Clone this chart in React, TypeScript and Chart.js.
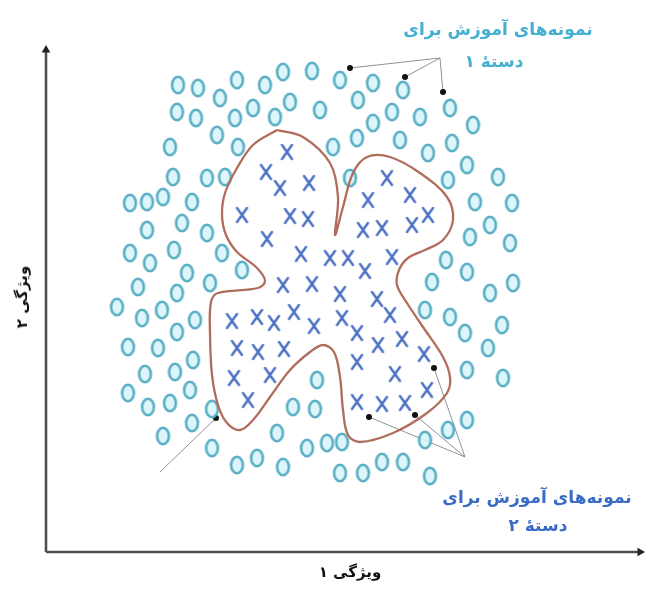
import React, { useEffect, useRef } from "react";
import { Chart, registerables } from "chart.js";
Chart.register(...registerables);

// Training samples of class 1 (circles): [feature1, feature2]
const class1Points: number[][] = [
  [132,467],[152,464],[174,454],[191,472],[219,467],[237,480],[266,481],[294,472],[327,469],[357,462],
  [131,440],[150,434],[171,417],[189,434],[207,444],[229,435],[244,450],[274,442],[312,452],[346,440],[374,435],[404,444],[327,429],
  [124,405],[192,405],[287,405],[311,414],[354,412],[382,399],[406,409],[427,427],
  [127,375],[161,374],[179,375],[304,374],[421,387],[402,372],[452,375],
  [84,349],[101,350],[117,355],[146,350],[429,350],[466,349],
  [101,322],[136,329],[161,319],[444,327],[424,315],[464,309],
  [84,299],[128,302],[176,299],[104,289],[400,292],
  [141,279],[196,282],[164,269],[421,280],
  [92,265],[131,259],[386,270],[444,259],[467,269],
  [71,245],[96,234],[116,242],[149,232],[379,242],[404,235],
  [131,220],[419,219],[456,227],
  [82,205],[112,204],[442,204],
  [147,192],[421,182],[457,174],
  [99,178],[129,180],[271,172],
  [144,162],[82,159],
  [102,145],[124,149],[166,143],[247,145],[269,143],
  [146,129],[231,119],
  [117,116],[166,104],[261,104],[281,109],[296,110],[379,112],[402,122],[421,132],
  [191,87],[211,94],[237,85],[294,79],[317,79],[336,90],[357,90],[384,76],
];

// Training samples of class 2 (crosses)
const class2Points: number[][] = [
  [241,400],[220,380],[234,364],[263,369],[196,337],[244,336],[262,333],[221,313],[255,298],[284,294],
  [302,294],[319,281],[346,295],[341,374],[322,352],[364,357],[317,322],[336,324],[366,327],[382,337],
  [237,267],[266,268],[294,258],[331,253],[186,231],[211,235],[228,229],[248,240],[268,226],[296,234],
  [311,219],[344,237],[332,207],[356,213],[378,198],[191,204],[212,200],[238,203],[188,174],[224,177],
  [202,152],[311,190],[349,178],[381,162],[311,150],[336,148],[359,149],
];

// Decision boundary (closed curve)
const boundaryPoints: number[][] = [
  [231,422],[257,415],[284,389],[292,355],[289,317],[297,345],[307,379],[321,395],[344,395],[374,379],
  [401,355],[407,332],[397,312],[379,302],[362,294],[353,282],[351,267],[361,249],[377,225],[397,195],
  [404,175],[401,159],[381,139],[347,119],[314,110],[302,117],[297,142],[294,175],[288,200],[277,207],
  [264,200],[244,182],[224,155],[207,132],[194,122],[181,129],[172,147],[166,177],[164,219],[165,250],
  [172,259],[212,264],[219,271],[211,284],[191,300],[180,317],[176,337],[179,359],[191,384],[207,407],
  [231,422],
];

// Pointer lines: first point is the label end, the others are the pointed samples
const pointerClass1: number[][][] = [
  [[394,494],[304,484]],
  [[394,494],[359,475]],
  [[394,494],[397,460]],
];
const pointerClass2: number[][][] = [
  [[114,80],[170,134]],
  [[419,95],[388,184]],
  [[419,95],[323,135]],
  [[419,95],[369,137]],
];

const xAxisLine: number[][] = [[0,0],[594,0]];
const yAxisLine: number[][] = [[0,0],[0,502]];

const topLabel = ["نمونه‌های آموزش برای", "دستهٔ ۱"];
const bottomLabel = ["نمونه‌های آموزش برای", "دستهٔ ۲"];
const xAxisLabel = "ویژگی ۱";
const yAxisLabel = "ویژگی ۲";

const toXY = (pts: number[][]) => pts.map(([x, y]) => ({ x, y }));

function makeO(): HTMLCanvasElement {
  const c = document.createElement("canvas");
  c.width = 17; c.height = 22;
  const g = c.getContext("2d")!;
  g.beginPath();
  g.ellipse(8.5, 11, 5.9, 8.2, 0, 0, Math.PI * 2);
  g.fillStyle = "rgba(215,244,250,0.85)";
  g.fill();
  g.lineWidth = 2.6;
  g.strokeStyle = "#5aafc5";
  g.stroke();
  return c;
}

function makeX(): HTMLCanvasElement {
  const c = document.createElement("canvas");
  c.width = 15; c.height = 18;
  const g = c.getContext("2d")!;
  g.lineWidth = 2.4;
  g.strokeStyle = "#4a6fc2";
  g.lineCap = "round";
  g.beginPath();
  g.moveTo(2.5, 2); g.lineTo(12.5, 16);
  g.moveTo(12.5, 2); g.lineTo(2.5, 16);
  g.stroke();
  return c;
}

export default function App() {
  const ref = useRef<HTMLCanvasElement>(null);
  useEffect(() => {
    if (!ref.current) return;
    const oImg = makeO();
    const xImg = makeX();
    const pointerSets = [...pointerClass1, ...pointerClass2].map((seg) => ({
      data: toXY(seg),
      showLine: true,
      borderColor: "#8d9399",
      borderWidth: 1,
      pointRadius: [0, 3],
      pointBackgroundColor: "#111",
      pointBorderWidth: 0,
      clip: false as any,
    }));
    const chart = new Chart(ref.current, {
      type: "scatter",
      data: {
        datasets: [
          {
            data: toXY(boundaryPoints),
            showLine: true,
            borderColor: "#b06d5c",
            borderWidth: 2.3,
            pointRadius: 0,
            tension: 0.35,
            fill: false,
          },
          { data: toXY(class1Points), pointStyle: oImg as any, pointRadius: 9 },
          { data: toXY(class2Points), pointStyle: xImg as any, pointRadius: 9 },
          ...pointerSets,
          {
            data: toXY(xAxisLine),
            showLine: true,
            borderColor: "#4b5058",
            borderWidth: 2.6,
            pointRadius: [0, 5],
            pointStyle: "triangle",
            rotation: 90,
            pointBackgroundColor: "#222",
            pointBorderWidth: 0,
            clip: false as any,
          },
          {
            data: toXY(yAxisLine),
            showLine: true,
            borderColor: "#4b5058",
            borderWidth: 2.6,
            pointRadius: [0, 5],
            pointStyle: "triangle",
            pointBackgroundColor: "#222",
            pointBorderWidth: 0,
            clip: false as any,
          },
        ],
      },
      options: {
        animation: false,
        responsive: false,
        maintainAspectRatio: false,
        layout: { padding: { left: 46, right: 14, top: 50, bottom: 38 } },
        plugins: { legend: { display: false }, tooltip: { enabled: false } },
        scales: {
          x: { type: "linear", min: 0, max: 594, display: false },
          y: { type: "linear", min: 0, max: 502, display: false },
        },
        events: [],
      },
    });
    return () => chart.destroy();
  }, []);

  const font = '"DejaVu Sans", sans-serif';
  const label = (text: string, x: number, y: number, color: string, size: number, extra: any = {}) => (
    <div
      dir="rtl"
      style={{
        position: "absolute",
        left: x,
        top: y,
        transform: "translate(-50%, -50%)",
        whiteSpace: "nowrap",
        fontFamily: font,
        fontWeight: "bold",
        fontSize: size,
        color,
        ...extra,
      }}
    >
      {text}
    </div>
  );

  return (
    <div style={{ position: "fixed", left: 0, top: 0, width: 654, height: 590, background: "#fff", overflow: "hidden" }}>
      <canvas ref={ref} width={654} height={590} style={{ width: 654, height: 590, display: "block" }} />
      {label(topLabel[0], 498, 29, "#45b0cf", 17)}
      {label(topLabel[1], 494, 61, "#45b0cf", 17)}
      {label(bottomLabel[0], 537, 497, "#3a6cc6", 17)}
      {label(bottomLabel[1], 538, 525, "#3a6cc6", 17)}
      {label(xAxisLabel, 350, 572, "#111", 15)}
      {label(yAxisLabel, 22, 297, "#111", 15, { transform: "translate(-50%, -50%) rotate(-90deg)" })}
    </div>
  );
}
